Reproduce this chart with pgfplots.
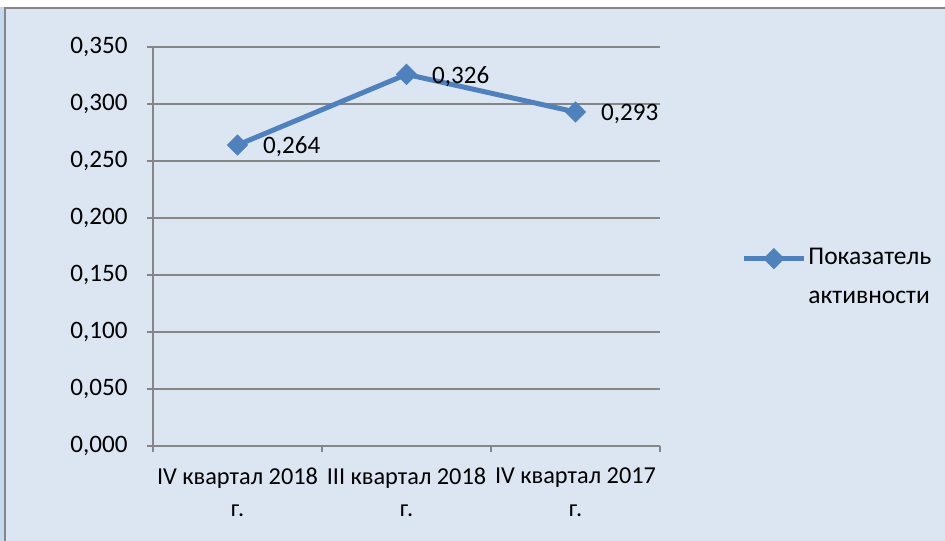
\documentclass[border=0pt]{standalone}
\usepackage{pgfplots}
\pgfplotsset{compat=1.18}
\usepackage{fontspec}
\setmainfont{Carlito}
\definecolor{chartbg}{HTML}{DCE6F2}
\definecolor{stripbg}{HTML}{C6D9F1}
\definecolor{axisgray}{HTML}{868686}
\definecolor{lineblue}{HTML}{4F81BD}

\begin{document}
\fontsize{12.2}{16.5}\selectfont
\begin{tikzpicture}
\path[use as bounding box] (0,0) rectangle (472.5bp,270.5bp);
\fill[white] (0,0) rectangle (472.5bp,270.5bp);
\fill[chartbg] (2bp,0) rectangle (472.5bp,267bp);
\fill[stripbg] (0,0) rectangle (2bp,267bp);
\draw[axisgray,line width=1bp] (2.5bp,0) -- (2.5bp,266.5bp) -- (472.5bp,266.5bp);

\begin{axis}[
    at={(76.5bp,47.5bp)}, anchor=south west,
    scale only axis, width=253.5bp, height=199.5bp,
    xmin=-0.5, xmax=2.5, ymin=0, ymax=0.35,
    axis x line*=bottom, axis y line*=left,
    axis line style={axisgray, line width=1bp, -},
    xtick={-0.5,0.5,1.5,2.5}, xticklabels={},
    extra x ticks={0,1,2},
    extra x tick labels={IV квартал 2018\\г., III квартал 2018\\г., IV квартал 2017\\г.},
    extra x tick style={major tick length=0pt, grid=none},
    ytick={0,0.05,0.1,0.15,0.2,0.25,0.3,0.35},
    tick align=outside, major tick length=3bp,
    tick style={axisgray, line width=1bp},
    ymajorgrids, grid style={axisgray, line width=1bp},
    /pgf/number format/use comma, /pgf/number format/fixed,
    /pgf/number format/fixed zerofill, /pgf/number format/precision=3,
    /pgf/number format/assume math mode=true,
    ticklabel style={font=\fontsize{12.2}{16.5}\selectfont, text=black},
    xticklabel style={align=center, yshift=-6.5bp},
    yticklabel style={xshift=-5.5bp, font=\fontsize{12.6}{16.5}\selectfont},
    legend style={draw=none, fill=none, at={(rel axis cs:1.148,0.422)}, anchor=west,
        font=\fontsize{12.8}{19.5}\selectfont, cells={anchor=west, align=left},
        nodes={inner sep=1bp}},
    legend image code/.code={\draw[mark repeat=2,mark phase=2] plot coordinates {(0bp,9.5bp) (15bp,9.5bp) (30bp,9.5bp)};},
]
\addplot[lineblue, line width=2.5bp, mark=diamond*, mark size=5bp,
    mark options={solid, fill=lineblue, draw=lineblue, line width=0.5bp, xscale=1.33},
    nodes near coords,
    nodes near coords style={anchor=west, xshift=8.5bp, yshift=-1bp, text=black,
        font=\fontsize{12.6}{16.5}\selectfont}]
    coordinates {(0,0.264) (1,0.326) (2,0.293)};
\addlegendentry{Показатель\\активности}
\end{axis}
\end{tikzpicture}
\end{document}
